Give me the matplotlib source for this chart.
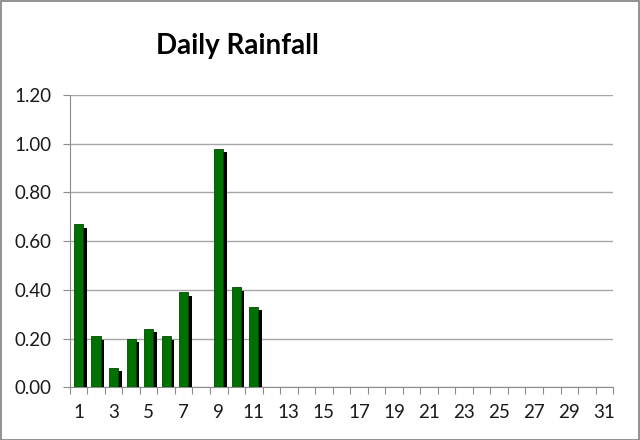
import numpy as np
import matplotlib.pyplot as plt
import matplotlib.patheffects as pe

# daily rainfall values (days 1..31, only first 11 recorded)
days = list(range(1, 32))
rain = [0.67, 0.21, 0.08, 0.20, 0.24, 0.21, 0.39, 0.00, 0.98, 0.41, 0.33] + [0.0] * 20
yticks = [0.0, 0.2, 0.4, 0.6, 0.8, 1.0, 1.2]

plt.rcParams['font.family'] = ['Lato', 'DejaVu Sans']

fig = plt.figure(figsize=(6.4, 4.4), dpi=100)
ax = fig.add_axes([0.109, 0.12, 0.849, 0.664])

# border around the whole chart
fig.patches.append(plt.Rectangle((0.001, 0.001), 0.997, 0.997, transform=fig.transFigure,
                                 fill=False, edgecolor='#7f7f7f', linewidth=1.2))

shadow = [pe.SimplePatchShadow(offset=(2.6, -2.6), shadow_rgbFace='black', alpha=1.0), pe.Normal()]
bars = ax.bar(days, rain, width=0.52, color='#007000', edgecolor='#004a00', linewidth=0.6, zorder=3)
for b in bars:
    if b.get_height() > 0:
        b.set_path_effects(shadow)

ax.set_xlim(0.5, 31.5)
ax.set_ylim(0, 1.2)
ax.set_yticks(yticks)
ax.set_yticklabels([f"{v:.2f}" for v in yticks], fontsize=13.5, color='#1a1a1a')
ax.yaxis.grid(True, color='#a6a6a6', linewidth=1.0)
ax.set_axisbelow(True)

# ticks at category boundaries, labels on every other day
ax.set_xticks(np.arange(0.5, 32, 1.0))
ax.set_xticklabels([])
ax.set_xticks(days[::2], minor=True)
ax.set_xticklabels([str(d) for d in days[::2]], minor=True, fontsize=13.5, color='#1a1a1a')
ax.tick_params(axis='x', which='minor', length=0, pad=12)
ax.tick_params(axis='x', which='major', length=5, color='#8c8c8c')
ax.tick_params(axis='y', length=5, color='#8c8c8c', pad=8)

for s in ['top', 'right']:
    ax.spines[s].set_visible(False)
for s in ['left', 'bottom']:
    ax.spines[s].set_color('#8c8c8c')

fig.text(0.371, 0.895, 'Daily Rainfall', ha='center', va='center', fontsize=20, fontweight='bold')

fig.savefig('out.png', dpi=100)
